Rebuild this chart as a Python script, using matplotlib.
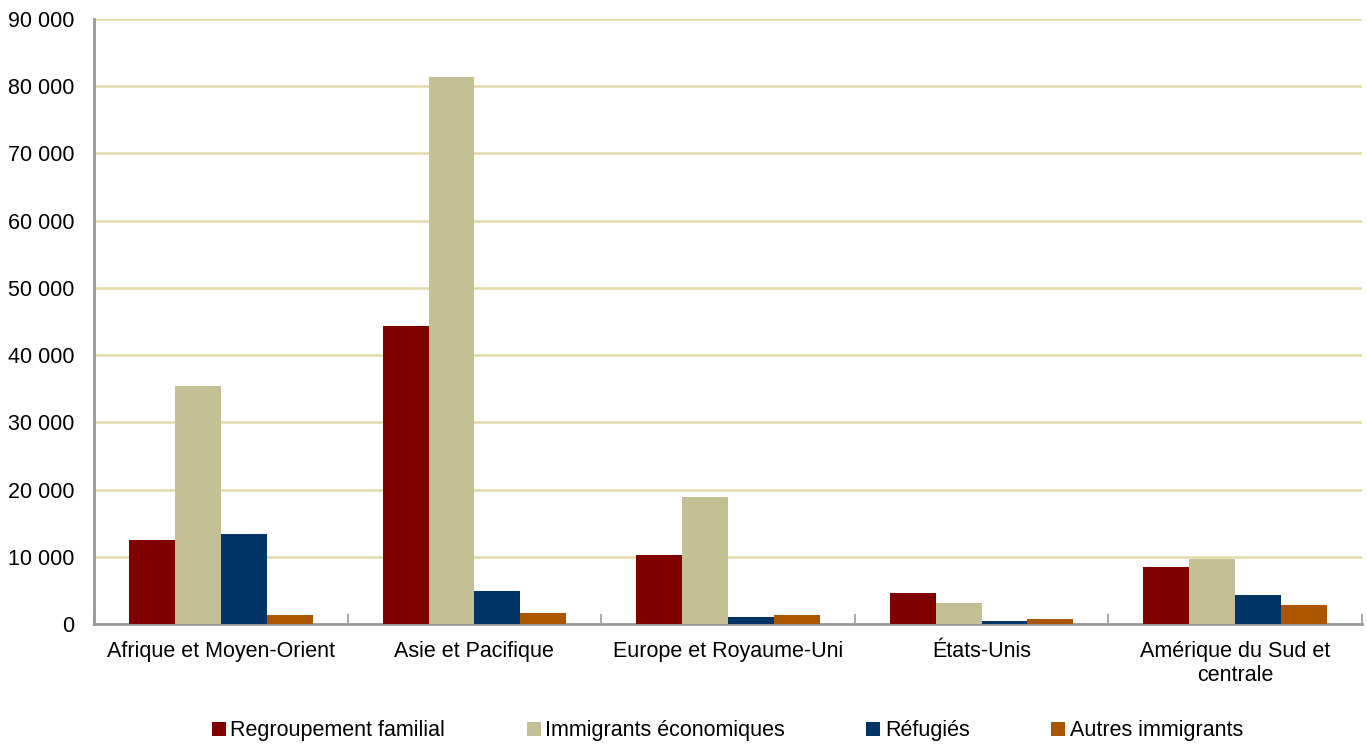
import numpy as np
import matplotlib.pyplot as plt
from matplotlib.ticker import FuncFormatter

plt.rcParams['font.family'] = ['Liberation Sans', 'DejaVu Sans']

regions = ["Afrique et Moyen-Orient", "Asie et Pacifique", "Europe et Royaume-Uni",
           "États-Unis", "Amérique du Sud et\ncentrale"]
series_names = ["Regroupement familial", "Immigrants économiques", "Réfugiés", "Autres immigrants"]
famille = [12500, 44300, 10300, 4600, 8500]
economiques = [35400, 81400, 18900, 3100, 9700]
refugies = [13400, 4900, 1000, 400, 4300]
autres = [1300, 1600, 1300, 700, 2800]
colors = ["#800000", "#C4C096", "#003366", "#AA5500"]

series = [famille, economiques, refugies, autres]

fig = plt.figure(figsize=(13.67, 7.44), dpi=100)
ax = fig.add_axes([0.0688, 0.1613, 0.9275, 0.8132])

x = np.arange(len(regions))
w = 0.181
for i, (vals, name, c) in enumerate(zip(series, series_names, colors)):
    ax.bar(x + (i - 1.5) * w, vals, width=w, color=c, label=name, zorder=3)

ax.set_xlim(-0.5, len(regions) - 0.5)
ax.set_ylim(0, 90000)
ax.set_yticks(np.arange(0, 90001, 10000))
ax.yaxis.set_major_formatter(FuncFormatter(lambda v, p: f"{int(v):,}".replace(",", " ")))
ax.yaxis.grid(True, color="#E3D9A6", linewidth=1.8, zorder=0)
ax.tick_params(axis="y", length=0, labelsize=15.5, pad=14)

ax.set_xticks(x)
ax.set_xticklabels(regions, fontsize=15.5)
ax.tick_params(axis="x", length=0, pad=12)
ax.set_xticks(np.arange(-0.5, len(regions)), minor=True)
ax.tick_params(axis="x", which="minor", length=7, width=1.2, color="#999999", direction="in")

for s in ["top", "right"]:
    ax.spines[s].set_visible(False)
for s in ["left", "bottom"]:
    ax.spines[s].set_color("#999999")
    ax.spines[s].set_linewidth(2)

fig.legend(loc="center", bbox_to_anchor=(0.532, 0.0175), ncol=4, frameon=False,
           fontsize=15.5, handlelength=0.65, handleheight=0.65, handletextpad=0.2,
           columnspacing=3.8)

fig.savefig("out.png", dpi=100)
